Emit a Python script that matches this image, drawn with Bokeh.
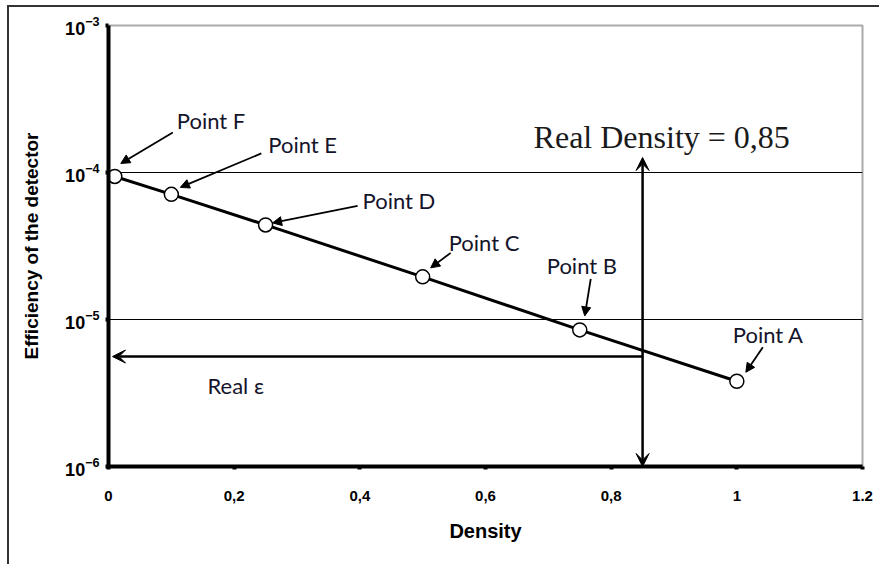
from bokeh.plotting import figure
from bokeh.models import (Arrow, NormalHead, VeeHead, FixedTicker, Span,
                          ColumnDataSource, LogTickFormatter)
from bokeh.core.properties import value
from bokeh.embed import file_html
from bokeh.resources import INLINE

# Calibration points: density vs detector efficiency
density = [0.01, 0.1, 0.25, 0.5, 0.75, 1.0]
efficiency = [9.4e-5, 7.1e-5, 4.4e-5, 1.95e-5, 8.5e-6, 3.8e-6]
point_names = ["Point F", "Point E", "Point D", "Point C", "Point B", "Point A"]

# Measured sample
real_density = 0.85
real_eps = 5.6e-6

x_ticks = [0, 0.2, 0.4, 0.6, 0.8, 1.0, 1.2]
x_tick_labels = ["0", "0,2", "0,4", "0,6", "0,8", "1", "1.2"]
y_ticks = [1e-6, 1e-5, 1e-4, 1e-3]

# Page frame offset and plot geometry
OFF_X, OFF_Y = 7, 5          # margin before the page frame line
BW = 2                       # frame line width
W, H = 881 - OFF_X - BW, 566 - OFF_Y - BW
LEFT, TOP = 108 - OFF_X - BW, 25 - OFF_Y - BW
RIGHT, BOTTOM = 19, 100
FW, FH = W - LEFT - RIGHT, H - TOP - BOTTOM
X0, X1 = 0.0, 1.2
DECADES = 3.0


def shift(x, y, ox, oy):
    """Move a data point by (ox, oy) screen pixels (oy positive = down)."""
    return x + ox * (X1 - X0) / FW, y * 10 ** (-oy * DECADES / FH)


p = figure(width=W, height=H, x_range=(X0, X1), y_range=(1e-6, 1e-3),
           y_axis_type="log", output_backend="svg", toolbar_location=None,
           min_border_left=LEFT, min_border_right=RIGHT,
           min_border_top=TOP, min_border_bottom=BOTTOM)
p.styles = {"margin-left": f"{OFF_X}px", "margin-top": f"{OFF_Y}px",
            "border-left": f"{BW}px solid #333333",
            "border-top": f"{BW}px solid #333333"}
p.background_fill_color = "white"
p.border_fill_color = "white"
p.outline_line_color = "#aaaaaa"
p.outline_line_width = 2
p.grid.visible = False

# axes
for ax in (p.xaxis[0], p.yaxis[0]):
    ax.axis_line_color = "black"
    ax.axis_line_width = 4
    ax.major_tick_line_color = "black"
    ax.major_tick_line_width = 4
    ax.major_tick_out = 3
    ax.major_tick_in = 0
    ax.minor_tick_line_color = None
    ax.major_label_text_font = "Liberation Sans"
    ax.major_label_text_font_style = "bold"
    ax.major_label_text_color = "black"
    ax.axis_label_text_font = "Liberation Sans"
    ax.axis_label_text_font_style = "bold"
    ax.axis_label_text_color = "black"

p.xaxis.ticker = FixedTicker(ticks=x_ticks)
p.xaxis.major_label_overrides = {t: s for t, s in zip(x_ticks, x_tick_labels)}
p.xaxis.major_label_text_font_size = "15px"
p.xaxis.major_label_standoff = 21
p.xaxis.axis_label = "Density"
p.xaxis.axis_label_text_font_size = "20px"
p.xaxis.axis_label_standoff = 16

p.yaxis.ticker = FixedTicker(ticks=y_ticks)
p.yaxis.formatter = LogTickFormatter()
p.yaxis.major_label_text_font_size = "18px"
p.yaxis.major_label_standoff = 6
p.yaxis.axis_label = "Efficiency of the detector"
p.yaxis.axis_label_text_font_size = "19px"
p.yaxis.axis_label_standoff = 20

# decade gridlines
for g in (1e-4, 1e-5):
    p.add_layout(Span(location=g, dimension="width", line_color="black",
                      line_width=1.2, level="underlay"))

# read-off arrows for the sample
big_head = dict(size=13, fill_color="black", line_color="black", line_width=1)
p.add_layout(Arrow(x_start=real_density, y_start=1e-6,
                   x_end=real_density, y_end=shift(0, 1e-4, 0, -15)[1],
                   start=VeeHead(**big_head), end=VeeHead(**big_head),
                   line_width=2.5, line_color="black"))
p.add_layout(Arrow(x_start=real_density, y_start=real_eps,
                   x_end=shift(0, real_eps, 4, 0)[0], y_end=real_eps,
                   end=VeeHead(**big_head), line_width=2.5, line_color="black"))

# calibration line and points
src = ColumnDataSource(dict(x=density, y=efficiency))
p.line("x", "y", source=src, line_color="black", line_width=3)

# labels with pointer arrows (offsets in pixels from each point)
tail_off = [(58, -44), (90, -41), (92, -19), (28, -24), (11, -51), (26, -34)]
head_off = [(6, -13), (9, -7), (7, -2), (8, -9), (5, -14), (9, -9)]
label_off = [(62, -56), (97, -50), (97, -24), (26, -34), (-33, -64), (-4, -47)]

small_head = dict(size=9, fill_color="black", line_color="black", line_width=1)
lx, ly = [], []
for x, y, t, h, l in zip(density, efficiency, tail_off, head_off, label_off):
    xs, ys = shift(x, y, *t)
    xe, ye = shift(x, y, *h)
    p.add_layout(Arrow(x_start=xs, y_start=ys, x_end=xe, y_end=ye,
                       end=NormalHead(**small_head), line_width=1.8,
                       line_color="black"))
    a, b = shift(x, y, *l)
    lx.append(a)
    ly.append(b)

p.text(lx, ly, text=point_names, text_font=value("Lato"),
       text_font_size="22px", text_color="#14142a",
       text_align="left", text_baseline="middle")

p.scatter("x", "y", source=src, marker="circle", size=14,
          fill_color="white", line_color="black", line_width=1.5)

# sample annotations
ex, ey = shift(0, real_eps, 207 - 108, 29)
p.text([ex], [ey], text=["Real \u03b5"], text_font=value("Lato"),
       text_font_size="22px", text_color="#14142a",
       text_align="left", text_baseline="middle")

dx_, dy_ = shift(real_density, 1e-4, -109, -36)
p.text([dx_], [dy_], text=["Real Density = 0,85"],
       text_font=value("Liberation Serif"), text_font_size="32px",
       text_color="#1a1a1a", text_align="left", text_baseline="middle")

open("out.html", "w").write(file_html(p, INLINE))
